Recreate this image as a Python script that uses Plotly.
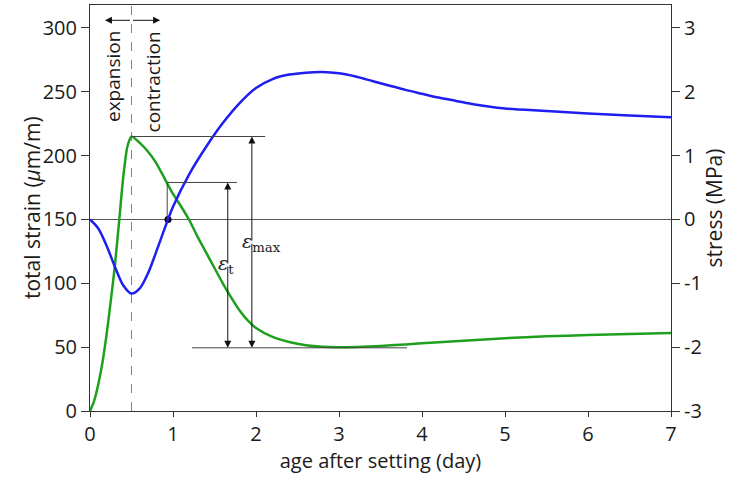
import plotly.graph_objects as go

# Total strain (left axis, µm/m) against age after setting (day)
strain_age = [0, 0.05, 0.1, 0.15, 0.2, 0.25, 0.3, 0.35, 0.4, 0.45, 0.5, 0.6, 0.7, 0.8,
              0.9, 1.0, 1.1, 1.2, 1.3, 1.4, 1.5, 1.6, 1.7, 1.8, 1.9, 2.0, 2.2, 2.4,
              2.6, 2.8, 3.0, 3.5, 4.0, 4.5, 5.0, 5.5, 6.0, 6.5, 7.0]
strain = [0, 8, 21, 38, 60, 86, 114, 148, 183, 207, 215, 210, 203, 194,
          182, 170, 160, 149, 136, 124, 112, 100, 89, 79, 71, 65, 58, 54,
          51.5, 50.3, 50, 51, 53, 55, 57, 58.5, 59.5, 60.3, 61]

# Stress (right axis, MPa) against age after setting (day)
stress_age = [0, 0.1, 0.2, 0.3, 0.4, 0.5, 0.6, 0.7, 0.8, 0.9, 1.0, 1.2, 1.4, 1.6,
              1.8, 2.0, 2.2, 2.4, 2.6, 2.8, 3.0, 3.2, 3.4, 3.6, 3.8, 4.0, 4.2, 4.4,
              4.6, 4.8, 5.0, 5.5, 6.0, 6.5, 7.0]
stress = [0, -0.14, -0.41, -0.74, -1.03, -1.16, -1.08, -0.84, -0.5, -0.14, 0.2, 0.72, 1.14, 1.51,
          1.82, 2.06, 2.2, 2.27, 2.3, 2.31, 2.29, 2.24, 2.17, 2.1, 2.03, 1.97, 1.91, 1.86,
          1.81, 1.77, 1.74, 1.7, 1.66, 1.63, 1.6]

x_ticks = [0, 1, 2, 3, 4, 5, 6, 7]
strain_ticks = [0, 50, 100, 150, 200, 250, 300]
stress_ticks = [-3, -2, -1, 0, 1, 2, 3]
stress_tick_text = ["-3", "-2", "-1", "0", "1", "2", "3"]

# Key points of the annotation
t_switch = 0.5          # expansion / contraction boundary
strain_peak = 215       # maximum strain
strain_min = 49.5       # minimum strain after contraction
t_zero_stress = 0.94    # stress crosses zero
strain_at_zero = 179    # strain when stress crosses zero

BLUE = "rgb(30,30,240)"
GREEN = "rgb(30,160,30)"
FONT = "Open Sans"
INK = "#1a1a1a"

fig = go.Figure()

fig.add_trace(go.Scatter(x=strain_age, y=strain, mode="lines",
                         line=dict(color=GREEN, width=2.5, shape="spline", smoothing=0.6),
                         showlegend=False, hoverinfo="skip"))
fig.add_trace(go.Scatter(x=stress_age, y=stress, mode="lines", yaxis="y2",
                         line=dict(color=BLUE, width=2.5, shape="spline", smoothing=0.8),
                         showlegend=False, hoverinfo="skip"))
fig.add_trace(go.Scatter(x=[t_zero_stress], y=[150], mode="markers",
                         marker=dict(color="black", size=7),
                         showlegend=False, hoverinfo="skip"))

line_style = dict(color="#444", width=1)
shapes = [
    # zero-stress reference line
    dict(type="line", xref="x", yref="y", x0=0, x1=7, y0=150, y1=150, line=dict(color="#555", width=1), layer="below"),
    # expansion/contraction boundary
    dict(type="line", xref="x", yref="y", x0=t_switch, x1=t_switch, y0=0, y1=318,
         line=dict(color="#8a7f85", width=1, dash="dash"), layer="below"),
    # strain peak level
    dict(type="line", xref="x", yref="y", x0=t_switch, x1=2.11, y0=strain_peak, y1=strain_peak, line=line_style),
    # strain at zero stress
    dict(type="line", xref="x", yref="y", x0=t_zero_stress - 0.01, x1=1.77, y0=strain_at_zero, y1=strain_at_zero, line=line_style),
    dict(type="line", xref="x", yref="y", x0=t_zero_stress - 0.01, x1=t_zero_stress - 0.01, y0=150, y1=strain_at_zero, line=line_style),
    # strain minimum level
    dict(type="line", xref="x", yref="y", x0=1.23, x1=3.82, y0=strain_min, y1=strain_min, line=line_style),
]

annotations = []


def double_arrow(xv, y0, y1):
    for ya, yb in ((y0, y1), (y1, y0)):
        annotations.append(dict(x=xv, y=yb, ax=xv, ay=(ya + yb) / 2, xref="x", yref="y",
                                axref="x", ayref="y", text="", showarrow=True,
                                arrowhead=2, arrowsize=1.4, arrowwidth=1, arrowcolor="#111"))


double_arrow(1.95, strain_min, strain_peak)
double_arrow(1.66, strain_min, strain_at_zero)

# expansion / contraction arrows at the top
for x_end in (0.18, 0.845):
    annotations.append(dict(x=x_end, y=306, ax=t_switch, ay=306, xref="x", yref="y",
                            axref="x", ayref="y", text="", showarrow=True,
                            arrowhead=2, arrowsize=1.4, arrowwidth=1, arrowcolor="#111"))

annotations += [
    dict(x=0.28, y=299, xref="x", yref="y", text="expansion", textangle=-90, showarrow=False,
         yanchor="top", font=dict(family=FONT, size=19, color=INK)),
    dict(x=0.755, y=299, xref="x", yref="y", text="contraction", textangle=-90, showarrow=False,
         yanchor="top", font=dict(family=FONT, size=19, color=INK)),
    dict(x=2.07, y=132, xref="x", yref="y", text="<i>ε</i><sub>max</sub>", showarrow=False,
         font=dict(family="DejaVu Serif", size=19, color="#222")),
    dict(x=1.64, y=115, xref="x", yref="y", text="<i>ε</i><sub>t</sub>", showarrow=False,
         font=dict(family="DejaVu Serif", size=19, color="#222")),
    # left axis title, placed close to the tick labels
    dict(x=0, y=0.5, xref="paper", yref="paper", xanchor="center", yanchor="middle",
         xshift=-58, text="total strain (<i>μ</i>m/m)",
         textangle=-90, showarrow=False, font=dict(family=FONT, size=21, color=INK)),
]

axis_common = dict(showline=True, linecolor="#333", linewidth=1, ticks="outside",
                   tickcolor="#333", showgrid=False, zeroline=False,
                   tickfont=dict(family=FONT, size=20, color=INK))

fig.update_layout(
    width=733, height=480,
    margin=dict(l=90, r=62, t=5, b=69),
    paper_bgcolor="white", plot_bgcolor="white",
    shapes=shapes, annotations=annotations,
    xaxis=dict(range=[0, 7], tickvals=x_ticks, mirror=True, ticklen=5,
               title=dict(text="age after setting (day)", standoff=2,
                          font=dict(family=FONT, size=20, color=INK)),
               **axis_common),
    yaxis=dict(range=[0, 318], tickvals=strain_ticks, ticklen=8, **axis_common),
    yaxis2=dict(range=[-3, 3.36], tickvals=stress_ticks, ticktext=stress_tick_text, ticklen=8,
                overlaying="y", side="right",
                title=dict(text="stress (MPa)", standoff=6,
                           font=dict(family=FONT, size=21, color=INK)),
                **axis_common),
)

fig.write_html("out.html")
